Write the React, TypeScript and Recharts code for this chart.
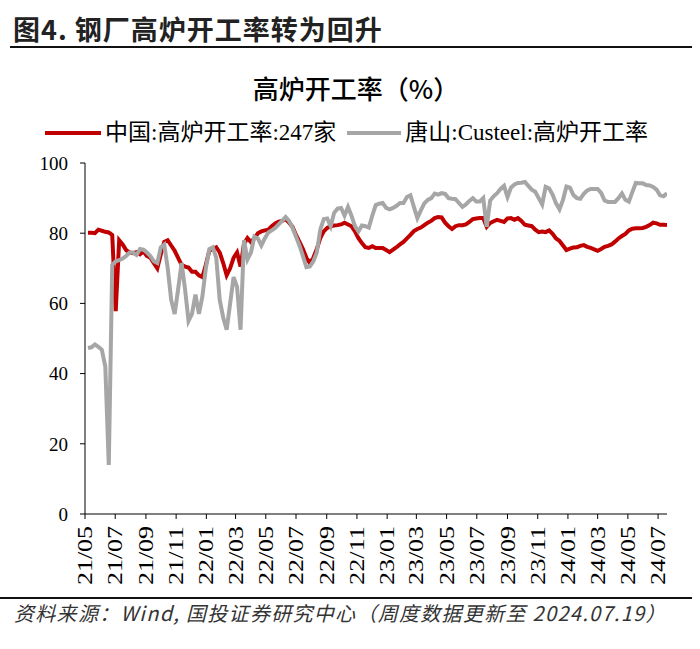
import React from "react";
import { LineChart, Line, XAxis, YAxis } from "recharts";

// weekly readings, first week 2021-05-07, last week 2024-07-19
const chinaRate = [
  80.1, 80.1, 80.0, 81.0, 80.7, 80.4, 80.2, 79.5, 57.8, 78.0,
  76.8, 75.2, 74.5, 74.3, 74.6, 74.0, 74.8, 73.5, 73.0, 71.5,
  70.0, 74.0, 77.5, 78.0, 76.5, 75.0, 73.0, 71.0, 70.5, 70.2,
  69.0, 69.0, 68.0, 67.5, 71.0, 75.0, 75.5, 76.0, 74.5, 71.5,
  68.0, 70.0, 73.0, 74.5, 70.5, 77.0, 78.6, 77.5, 78.5, 80.0,
  80.5, 80.8, 81.0, 82.0, 82.8, 83.3, 83.5, 84.0, 83.0, 81.8,
  79.5, 77.5, 75.5, 73.0, 71.5, 73.0, 75.5, 78.6, 80.5, 81.5,
  82.0, 82.2, 82.3, 82.5, 83.0, 82.5, 82.0, 80.5, 78.6, 77.2,
  76.0, 75.8, 76.3, 75.8, 75.8, 75.8, 75.2, 74.6, 75.3, 76.0,
  76.8, 77.5, 78.5, 79.5, 80.6, 81.2, 81.6, 82.3, 83.0, 83.5,
  84.3, 84.6, 84.5, 83.0, 82.0, 81.2, 82.0, 82.3, 82.3, 82.5,
  83.2, 84.0, 84.2, 84.3, 84.3, 81.8, 82.9, 83.4, 83.8, 83.5,
  83.2, 84.2, 84.3, 83.8, 84.3, 83.5, 82.4, 82.2, 82.0, 81.0,
  80.3, 80.5, 80.3, 80.8, 79.8, 78.5, 77.8, 76.5, 75.2, 75.6,
  75.9, 76.0, 76.4, 76.6, 76.1, 75.8, 75.4, 75.0, 75.5, 76.1,
  76.4, 76.8, 77.6, 78.5, 79.2, 79.8, 80.8, 81.3, 81.4, 81.4,
  81.5, 81.8, 82.3, 83.0, 82.8, 82.4, 82.4, 82.3,
];

const tangshanRate = [
  47.3, 47.5, 48.3, 47.6, 46.8, 42.0, 14.0, 71.0, 72.0, 72.3,
  72.8, 73.5, 74.5, 74.5, 73.8, 75.5, 75.3, 74.5, 73.5, 72.0,
  71.5, 76.0, 76.8, 70.0, 61.0, 57.0, 64.0, 71.5, 64.0, 55.0,
  57.0, 62.5, 57.0, 62.0, 70.0, 75.5, 76.0, 73.0, 61.0, 56.0,
  52.5, 60.0, 67.5, 64.7, 52.5, 78.0, 72.5, 74.5, 79.0, 78.5,
  76.5, 78.5, 80.2, 80.8, 81.5, 82.5, 83.5, 84.6, 83.5, 81.5,
  79.0, 76.5, 73.5, 70.3, 70.5, 72.0, 74.5, 81.0, 84.0, 84.2,
  82.0, 85.8, 87.0, 87.2, 85.0, 87.5, 85.0, 82.0, 80.5, 82.2,
  82.0, 81.6, 85.0, 88.0, 88.4, 88.6, 87.2, 86.8, 87.2, 87.8,
  88.6, 88.6, 90.3, 90.8, 87.5, 84.3, 86.5, 88.5, 89.5, 90.0,
  91.3, 91.0, 91.4, 91.2, 90.0, 89.8, 89.7, 88.6, 87.5, 88.2,
  89.2, 90.0, 89.0, 89.0, 90.0, 81.8, 89.3, 90.5, 91.4, 92.6,
  93.5, 90.3, 93.0, 93.9, 94.3, 94.4, 94.6, 93.5, 92.4, 91.8,
  90.0, 88.2, 93.2, 92.8, 91.0, 88.5, 86.8, 89.5, 93.3, 93.0,
  90.9, 90.0, 89.8, 91.2, 92.2, 92.6, 92.6, 92.6, 91.5, 89.3,
  88.9, 88.9, 88.9, 90.0, 91.3, 89.5, 89.0, 91.7, 94.3, 94.2,
  94.2, 93.7, 93.6, 93.2, 92.4, 90.8, 90.5, 91.4,
];

const tickLabels = [
  "21/05", "21/07", "21/09", "21/11", "22/01", "22/03", "22/05", "22/07",
  "22/09", "22/11", "23/01", "23/03", "23/05", "23/07", "23/09", "23/11",
  "24/01", "24/03", "24/05", "24/07",
];

const yTicks = [0, 20, 40, 60, 80, 100];

const START = Date.UTC(2021, 4, 7);
const WEEK = 7 * 24 * 3600 * 1000;
const data = chinaRate.map((v, i) => ({
  t: START + i * WEEK,
  china: v,
  tangshan: tangshanRate[i],
}));

const monthTick = (s: string) =>
  Date.UTC(2000 + Number(s.slice(0, 2)), Number(s.slice(3)) - 1, 1);
const xTicks = tickLabels.map(monthTick);
const xDomain = [Date.UTC(2021, 4, 1), Date.UTC(2024, 6, 19)];

const fmt = (t: number) => {
  const d = new Date(t);
  const yy = String(d.getUTCFullYear() % 100).padStart(2, "0");
  const mm = String(d.getUTCMonth() + 1).padStart(2, "0");
  return `${yy}/${mm}`;
};

const SERIF = "'Liberation Serif', 'Noto Sans CJK SC', serif";
const CJK = "'Noto Sans CJK SC', 'Liberation Serif', sans-serif";

const XTick = (props: any) => {
  const { x, y, payload } = props;
  const ay = y + 5;
  return (
    <text
      x={x}
      y={ay}
      transform={`rotate(-90, ${x}, ${ay})`}
      textAnchor="end"
      dominantBaseline="central"
      fontFamily={SERIF}
      fontSize={20}
      fill="#000"
      textLength={59}
      lengthAdjust="spacingAndGlyphs"
    >
      {fmt(payload.value)}
    </text>
  );
};

export default function App() {
  return (
    <div style={{ position: "absolute", left: 0, top: 0, width: 700, height: 649, background: "#fff" }}>
      <div
        style={{
          position: "absolute",
          left: 13,
          top: 12,
          fontFamily: CJK,
          fontSize: 27,
          fontWeight: 700,
          letterSpacing: 1,
          color: "#222",
          lineHeight: "34px",
          whiteSpace: "nowrap",
        }}
      >
        图4. 钢厂高炉开工率转为回升
      </div>
      <div style={{ position: "absolute", left: 10, top: 46, width: 682, height: 2, background: "#111" }} />

      <div
        style={{
          position: "absolute",
          left: 0,
          width: 712,
          top: 71,
          textAlign: "center",
          fontFamily: CJK,
          fontSize: 26,
          fontWeight: 500,
          color: "#000",
          lineHeight: "34px",
        }}
      >
        高炉开工率（%）
      </div>

      <div
        style={{
          position: "absolute",
          left: 45,
          top: 119,
          display: "flex",
          alignItems: "center",
          fontFamily: SERIF,
          fontSize: 23,
          color: "#000",
          lineHeight: "28px",
          whiteSpace: "nowrap",
        }}
      >
        <span style={{ display: "inline-block", width: 56, height: 4, background: "#C00000", marginRight: 4 }} />
        <span>中国:高炉开工率:247家</span>
        <span style={{ display: "inline-block", width: 54, height: 4, background: "#A6A6A6", marginLeft: 11, marginRight: 4 }} />
        <span>唐山:Custeel:高炉开工率</span>
      </div>

      <div style={{ position: "absolute", left: 0, top: 0 }}>
        <LineChart width={700} height={600} data={data} margin={{ top: 163, right: 33, left: 0, bottom: 0 }}>
          <XAxis
            dataKey="t"
            type="number"
            domain={xDomain}
            ticks={xTicks}
            tick={<XTick />}
            interval={0}
            height={86}
            tickSize={5}
            axisLine={{ stroke: "#000" }}
            tickLine={{ stroke: "#000" }}
            allowDataOverflow
          />
          <YAxis
            domain={[0, 100]}
            ticks={yTicks}
            width={85}
            tickSize={5}
            tickMargin={12}
            axisLine={{ stroke: "#000" }}
            tickLine={{ stroke: "#000" }}
            tick={{ fill: "#000", fontFamily: SERIF, fontSize: 19 }}
          />
          <Line
            dataKey="china"
            type="linear"
            stroke="#C00000"
            strokeWidth={4}
            dot={false}
            isAnimationActive={false}
          />
          <Line
            dataKey="tangshan"
            type="linear"
            stroke="#A6A6A6"
            strokeWidth={4}
            dot={false}
            isAnimationActive={false}
          />
        </LineChart>
      </div>

      <div style={{ position: "absolute", left: 0, top: 597, width: 692, height: 2, background: "#111" }} />
      <div
        style={{
          position: "absolute",
          left: 14,
          top: 600,
          fontFamily: CJK,
          fontSize: 20,
          fontStyle: "italic",
          letterSpacing: 1.3,
          color: "#333",
          lineHeight: "26px",
          whiteSpace: "nowrap",
        }}
      >
        资料来源：Wind, 国投证券研究中心（周度数据更新至 2024.07.19）
      </div>
    </div>
  );
}
